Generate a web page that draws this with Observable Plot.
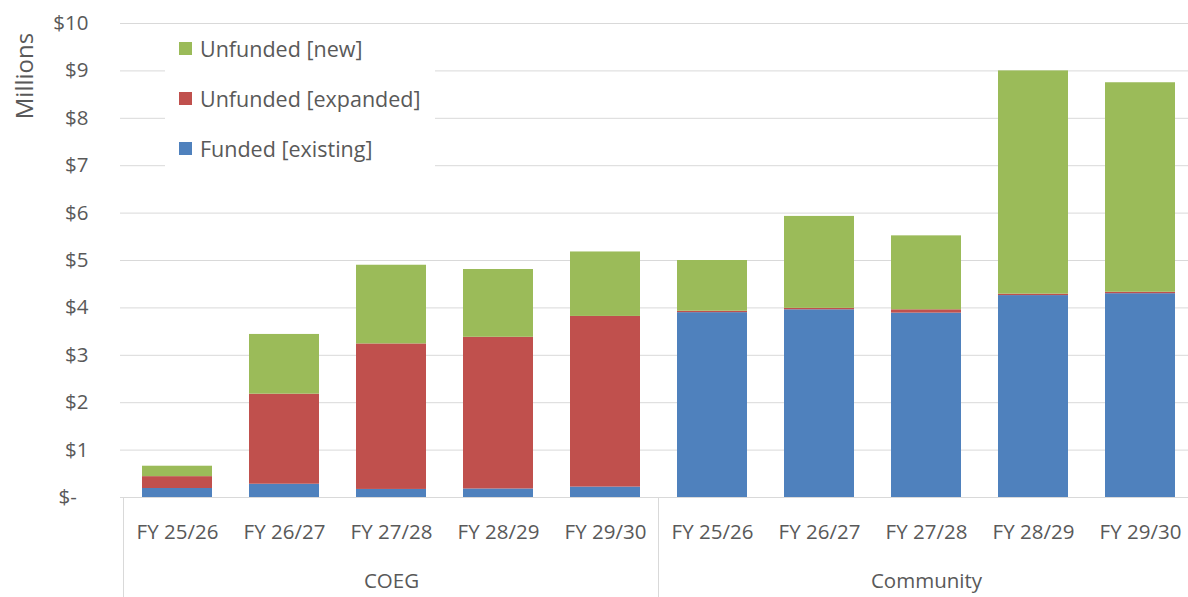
<!DOCTYPE html>
<html>
<head>
<meta charset="utf-8">
<script src="https://cdn.jsdelivr.net/npm/d3@7"></script>
<script src="https://cdn.jsdelivr.net/npm/@observablehq/plot@0.6"></script>
<style>
  html, body { margin: 0; padding: 0; background: #fff; }
  #wrap { position: relative; width: 1188px; height: 597px; overflow: hidden; font-family: "Open Sans", sans-serif; color: #595959; }
  #legend { position: absolute; left: 165px; top: 30px; width: 270px; height: 140px; background: #fff; }
  .row { position: absolute; left: 0; height: 24px; display: flex; align-items: center; font-size: 21.5px; white-space: nowrap; }
  .sw { width: 13px; height: 13px; margin-left: 14px; margin-right: 8px; }
  #ylab { position: absolute; left: 23px; top: 76px; transform: translate(-50%, -50%) rotate(-90deg); font-size: 24px; white-space: nowrap; }
</style>
</head>
<body>
<div id="wrap"></div>
<script>
const years = ["FY 25/26", "FY 26/27", "FY 27/28", "FY 28/29", "FY 29/30"];
const groups = ["COEG", "Community"];
const seriesNames = ["Funded [existing]", "Unfunded [expanded]", "Unfunded [new]"];
const seriesColors = ["#4F81BD", "#C0504D", "#9BBB59"];
const legendOrder = ["Unfunded [new]", "Unfunded [expanded]", "Funded [existing]"];

// values in $ millions
const coegFunded   = [0.19, 0.28, 0.17, 0.18, 0.22];
const coegExpanded = [0.25, 1.90, 3.07, 3.20, 3.60];
const coegNew      = [0.22, 1.26, 1.66, 1.43, 1.36];
const commFunded   = [3.90, 3.96, 3.89, 4.26, 4.30];
const commExpanded = [0.03, 0.03, 0.07, 0.03, 0.03];
const commNew      = [1.07, 1.94, 1.56, 4.71, 4.42];

const yTicks = [0, 1, 2, 3, 4, 5, 6, 7, 8, 9, 10];

const groupSeries = {
  "COEG": [coegFunded, coegExpanded, coegNew],
  "Community": [commFunded, commExpanded, commNew]
};

const keyOf = (g, y) => g + "|" + y;
const keys = groups.flatMap(g => years.map(y => keyOf(g, y)));

const rows = [];
for (const g of groups) {
  years.forEach((yr, i) => {
    seriesNames.forEach((s, j) => {
      rows.push({key: keyOf(g, yr), group: g, year: yr, series: s, value: groupSeries[g][j][i]});
    });
  });
}

const groupLabels = groups.map(g => ({group: g, key: keyOf(g, years[Math.floor(years.length / 2)])}));
const groupStarts = groups.map(g => keyOf(g, years[0]));

const W = 1188, H = 597, ML = 120, MB = 100, MT = 23;

function dividers(index, scales, values, dims) {
  const x = scales.x;
  const bw = x.bandwidth();
  const step = x(keys[1]) - x(keys[0]);
  const gap = step - bw;
  const xs = groupStarts.map(k => x(k) - gap / 2);
  xs.push(x(keys[keys.length - 1]) + bw + gap / 2);
  const g = d3.create("svg:g");
  const y0 = dims.height - dims.marginBottom;
  for (const xv of xs) {
    g.append("line").attr("x1", xv).attr("x2", xv).attr("y1", y0).attr("y2", dims.height)
      .attr("stroke", "#d9d9d9").attr("stroke-width", 1);
  }
  return g.node();
}

const chart = Plot.plot({
  width: W,
  height: H,
  marginLeft: ML,
  marginRight: 0,
  marginTop: MT,
  marginBottom: MB,
  style: {fontFamily: "Open Sans, sans-serif", fontSize: "20.5px", color: "#595959", background: "#fff", overflow: "hidden"},
  x: {domain: keys, range: [ML, 1196], paddingInner: 0.35, paddingOuter: 0.175, axis: null},
  y: {domain: [0, 10], axis: null},
  color: {domain: seriesNames, range: seriesColors},
  marks: [
    Plot.ruleY(yTicks.filter(d => d > 0), {stroke: "#d9d9d9", strokeWidth: 1}),
    Plot.barY(rows, {x: "key", y: "value", fill: "series", order: seriesNames}),
    Plot.ruleY([0], {stroke: "#d9d9d9", strokeWidth: 1}),
    Plot.axisY(yTicks, {tickSize: 0, tickPadding: 32, tickFormat: d => d === 0 ? "$-\u2007" : "$" + d, label: null}),
    Plot.axisX({tickSize: 0, tickPadding: 27, tickFormat: d => d.split("|")[1], label: null}),
    Plot.text(groupLabels, {x: "key", text: "group", frameAnchor: "bottom", dy: 90, fill: "#595959"}),
    dividers
  ]
});

const wrap = document.getElementById("wrap");
wrap.appendChild(chart);
chart.style.position = "absolute";
chart.style.left = "0px";
chart.style.top = "0px";

const legend = document.createElement("div");
legend.id = "legend";
legendOrder.forEach((s, i) => {
  const row = document.createElement("div");
  row.className = "row";
  row.style.top = (6 + i * 50) + "px";
  const sw = document.createElement("span");
  sw.className = "sw";
  sw.style.background = seriesColors[seriesNames.indexOf(s)];
  const t = document.createElement("span");
  t.textContent = s;
  row.appendChild(sw);
  row.appendChild(t);
  legend.appendChild(row);
});
wrap.appendChild(legend);

const ylab = document.createElement("div");
ylab.id = "ylab";
ylab.textContent = "Millions";
wrap.appendChild(ylab);
</script>
</body>
</html>
